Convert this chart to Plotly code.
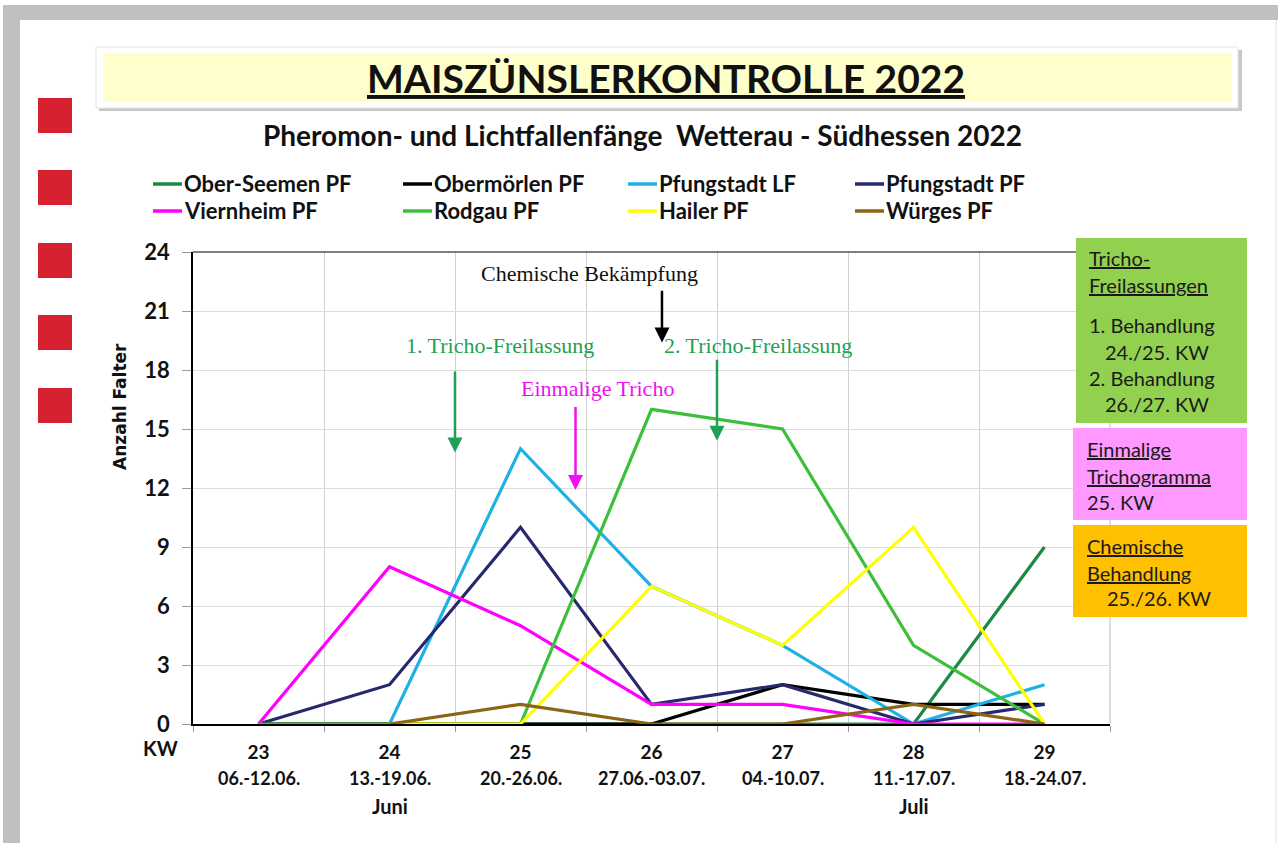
import plotly.graph_objects as go

# ---------------- data ----------------
weeks = [23, 24, 25, 26, 27, 28, 29]
date_ranges = ["06.-12.06.", "13.-19.06.", "20.-26.06.", "27.06.-03.07.",
               "04.-10.07.", "11.-17.07.", "18.-24.07."]
months = ["", "Juni", "", "", "", "Juli", ""]

series_names = ["Ober-Seemen PF", "Obermörlen PF", "Pfungstadt LF", "Pfungstadt PF",
                "Viernheim PF", "Rodgau PF", "Hailer PF", "Würges PF"]
ober_seemen = [0, 0, 0, 0, 0, 0, 9]
obermoerlen = [0, 0, 0, 0, 2, 1, 1]
pfungstadt_lf = [None, 0, 14, 7, 4, 0, 2]
pfungstadt_pf = [0, 2, 10, 1, 2, 0, 1]
viernheim = [0, 8, 5, 1, 1, 0, 0]
rodgau = [0, 0, 0, 16, 15, 4, 0]
hailer = [None, 0, 0, 7, 4, 10, 0]
wuerges = [None, 0, 1, 0, 0, 1, 0]
series_values = [ober_seemen, obermoerlen, pfungstadt_lf, pfungstadt_pf,
                 viernheim, rodgau, hailer, wuerges]
series_colors = ["#1a8a46", "#000000", "#1fb1e6", "#27286e",
                 "#ff00ff", "#3cc03c", "#ffff00", "#8b6414"]

y_ticks = [0, 3, 6, 9, 12, 15, 18, 21, 24]

# ---------------- geometry helpers (pixel -> paper) ----------------
L, T, W, H = 193, 252, 917, 472
def px(x):
    return (x - L) / W
def py(y):
    return (T + H - y) / H

LATO = "Lato"
SERIF = "Liberation Serif"

fig = go.Figure()
for name, vals, col in zip(series_names, series_values, series_colors):
    fig.add_trace(go.Scatter(x=weeks, y=vals, mode="lines", name=name,
                             line=dict(color=col, width=3.2), showlegend=False,
                             connectgaps=False))

shapes = []
annotations = []

# outer grey frame
shapes.append(dict(type="rect", xref="paper", yref="paper", x0=px(3), x1=px(20), y0=py(843), y1=py(5),
                   fillcolor="#bfbfbf", line=dict(width=0), layer="below"))
shapes.append(dict(type="rect", xref="paper", yref="paper", x0=px(3), x1=px(1278), y0=py(20), y1=py(5),
                   fillcolor="#bfbfbf", line=dict(width=0), layer="below"))
shapes.append(dict(type="line", xref="paper", yref="paper", x0=px(1276), x1=px(1276), y0=py(843), y1=py(20),
                   line=dict(color="#e0e0e0", width=1), layer="below"))
# red squares
for y0 in [98, 170, 243, 315, 388]:
    shapes.append(dict(type="rect", xref="paper", yref="paper", x0=px(38), x1=px(72), y0=py(y0 + 35), y1=py(y0),
                       fillcolor="#d52130", line=dict(width=0), layer="below"))
# title box with shadow
shapes.append(dict(type="rect", xref="paper", yref="paper", x0=px(99), x1=px(1242), y0=py(111), y1=py(50),
                   fillcolor="#c8c8c8", line=dict(width=0), layer="below"))
shapes.append(dict(type="rect", xref="paper", yref="paper", x0=px(96), x1=px(1238), y0=py(108), y1=py(47),
                   fillcolor="#ffffff", line=dict(color="#e6e6e6", width=1), layer="below"))
shapes.append(dict(type="rect", xref="paper", yref="paper", x0=px(103), x1=px(1232), y0=py(102), y1=py(53),
                   fillcolor="#ffffcc", line=dict(width=0), layer="below"))
# top / right border of the plot area
shapes.append(dict(type="line", xref="paper", yref="paper", x0=0, x1=1, y0=1, y1=1,
                   line=dict(color="#555555", width=1.5)))
shapes.append(dict(type="line", xref="paper", yref="paper", x0=1, x1=1, y0=0, y1=1,
                   line=dict(color="#bbbbbb", width=1), layer="below"))

# title texts
annotations.append(dict(xref="paper", yref="paper", x=px(666), y=py(78), text="<b><u>MAISZÜNSLERKONTROLLE 2022</u></b>",
                        showarrow=False, font=dict(family=LATO, size=39, color="#111111"), xanchor="center", yanchor="middle"))
annotations.append(dict(xref="paper", yref="paper", x=px(642), y=py(135),
                        text="<b>Pheromon- und Lichtfallenfänge  Wetterau - Südhessen 2022</b>",
                        showarrow=False, font=dict(family=LATO, size=28, color="#111111"), xanchor="center", yanchor="middle"))

# custom legend (2 rows x 4 columns)
col_x = [153, 403, 628, 855]
row_y = [184, 211]
for i, (name, col) in enumerate(zip(series_names, series_colors)):
    cx = col_x[i % 4]
    ry = row_y[i // 4]
    shapes.append(dict(type="line", xref="paper", yref="paper", x0=px(cx), x1=px(cx + 29), y0=py(ry), y1=py(ry),
                       line=dict(color=col, width=3.5)))
    annotations.append(dict(xref="paper", yref="paper", x=px(cx + 29), y=py(ry), text="<b>" + name + "</b>",
                            showarrow=False, font=dict(family=LATO, size=22, color="#111111"),
                            xanchor="left", yanchor="middle"))

# x-axis second / third label lines
for wk, dr, mo in zip(weeks, date_ranges, months):
    annotations.append(dict(xref="x", yref="paper", x=wk, y=py(778), text="<b>" + dr + "</b>", showarrow=False,
                            font=dict(family=LATO, size=18, color="#111111"), xanchor="center", yanchor="middle"))
    if mo:
        annotations.append(dict(xref="x", yref="paper", x=wk, y=py(806), text="<b>" + mo + "</b>", showarrow=False,
                                font=dict(family=LATO, size=20, color="#111111"), xanchor="center", yanchor="middle"))
annotations.append(dict(xref="paper", yref="paper", x=px(160), y=py(748), text="<b>KW</b>", showarrow=False,
                        font=dict(family=LATO, size=20, color="#111111"), xanchor="center", yanchor="middle"))
# y-axis title (placed like the reference, above the axis centre)
annotations.append(dict(xref="paper", yref="paper", x=px(120), y=py(407), text="<b>Anzahl Falter</b>", showarrow=False,
                        textangle=-90, font=dict(family="DejaVu Sans", size=17, color="#111111"),
                        xanchor="center", yanchor="middle"))

# in-plot notes and arrows
annotations.append(dict(x=25.53, y=22.93, xref="x", yref="y", text="Chemische Bekämpfung", showarrow=False,
                        font=dict(family=SERIF, size=22, color="#111111")))
annotations.append(dict(x=24.84, y=19.27, xref="x", yref="y", text="1. Tricho-Freilassung", showarrow=False,
                        font=dict(family=SERIF, size=22, color="#1fa055")))
annotations.append(dict(x=26.81, y=19.27, xref="x", yref="y", text="2. Tricho-Freilassung", showarrow=False,
                        font=dict(family=SERIF, size=22, color="#1fa055")))
annotations.append(dict(x=25.59, y=17.08, xref="x", yref="y", text="Einmalige Tricho", showarrow=False,
                        font=dict(family=SERIF, size=22, color="#ee11ee")))
arrows = [  # x, head_y, tail_y, color
    (26.08, 19.4, 22.1, "#000000"),
    (24.5, 13.8, 18.0, "#1fa055"),
    (26.5, 14.4, 18.6, "#1fa055"),
    (25.42, 11.9, 16.2, "#ee11ee"),
]
for ax_x, hy, ty, c in arrows:
    annotations.append(dict(x=ax_x, y=hy, ax=ax_x, ay=ty, xref="x", yref="y", axref="x", ayref="y", text="",
                            showarrow=True, arrowhead=2, arrowsize=1.2, arrowwidth=2.5, arrowcolor=c))

# right side boxes
boxes = [
    (1076, 238, 1247, 423, "#92d050"),
    (1073, 428, 1247, 520, "#ff99ff"),
    (1073, 525, 1247, 617, "#ffc000"),
]
for x0, y0, x1, y1, c in boxes:
    shapes.append(dict(type="rect", xref="paper", yref="paper", x0=px(x0), x1=px(x1), y0=py(y1), y1=py(y0),
                       fillcolor=c, line=dict(width=0), layer="above"))
box_lines = [
    (1087, 258, "<u>Tricho-</u>"), (1087, 285, "<u>Freilassungen</u>"),
    (1087, 325, "1. Behandlung"), (1103, 352, "24./25. KW"),
    (1087, 378, "2. Behandlung"), (1103, 404, "26./27. KW"),
    (1085, 449, "<u>Einmalige</u>"), (1085, 476, "<u>Trichogramma</u>"), (1085, 502, "25. KW"),
    (1085, 546, "<u>Chemische</u>"), (1085, 573, "<u>Behandlung</u>"), (1105, 598, "25./26. KW"),
]
for bx, by, t in box_lines:
    annotations.append(dict(xref="paper", yref="paper", x=px(bx), y=py(by), text=t, showarrow=False,
                            font=dict(family=LATO, size=20, color="#1a1a1a"), xanchor="left", yanchor="middle"))

fig.update_layout(
    width=1278, height=843,
    margin=dict(l=L, r=1278 - L - W, t=T, b=843 - T - H, pad=0),
    paper_bgcolor="#ffffff", plot_bgcolor="#ffffff",
    shapes=shapes, annotations=annotations,
    xaxis=dict(range=[22.5, 29.5], tickvals=weeks, ticktext=["<b>%d</b>" % w for w in weeks],
               showgrid=False, ticks="", ticklabelstandoff=10,
               tickfont=dict(family=LATO, size=19, color="#111111"),
               showline=True, linecolor="#000000", linewidth=1.5, zeroline=False,
               minor=dict(tickvals=[22.5 + i for i in range(8)], showgrid=True, gridcolor="#d0d0d0",
                          gridwidth=1, ticks="outside", ticklen=6, tickcolor="#999999")),
    yaxis=dict(range=[0, 24], tickvals=y_ticks, ticktext=["<b>%d</b>" % v for v in y_ticks],
               showgrid=True, gridcolor="#dddddd", gridwidth=1,
               ticks="outside", ticklen=9, tickcolor="#999999", ticklabelstandoff=8,
               tickfont=dict(family=LATO, size=22, color="#111111"),
               showline=True, linecolor="#000000", linewidth=1.5, zeroline=False),
)

fig.write_html("out.html", config={"displayModeBar": False},
               post_script="document.body.style.margin='0';document.body.style.overflow='hidden';")
